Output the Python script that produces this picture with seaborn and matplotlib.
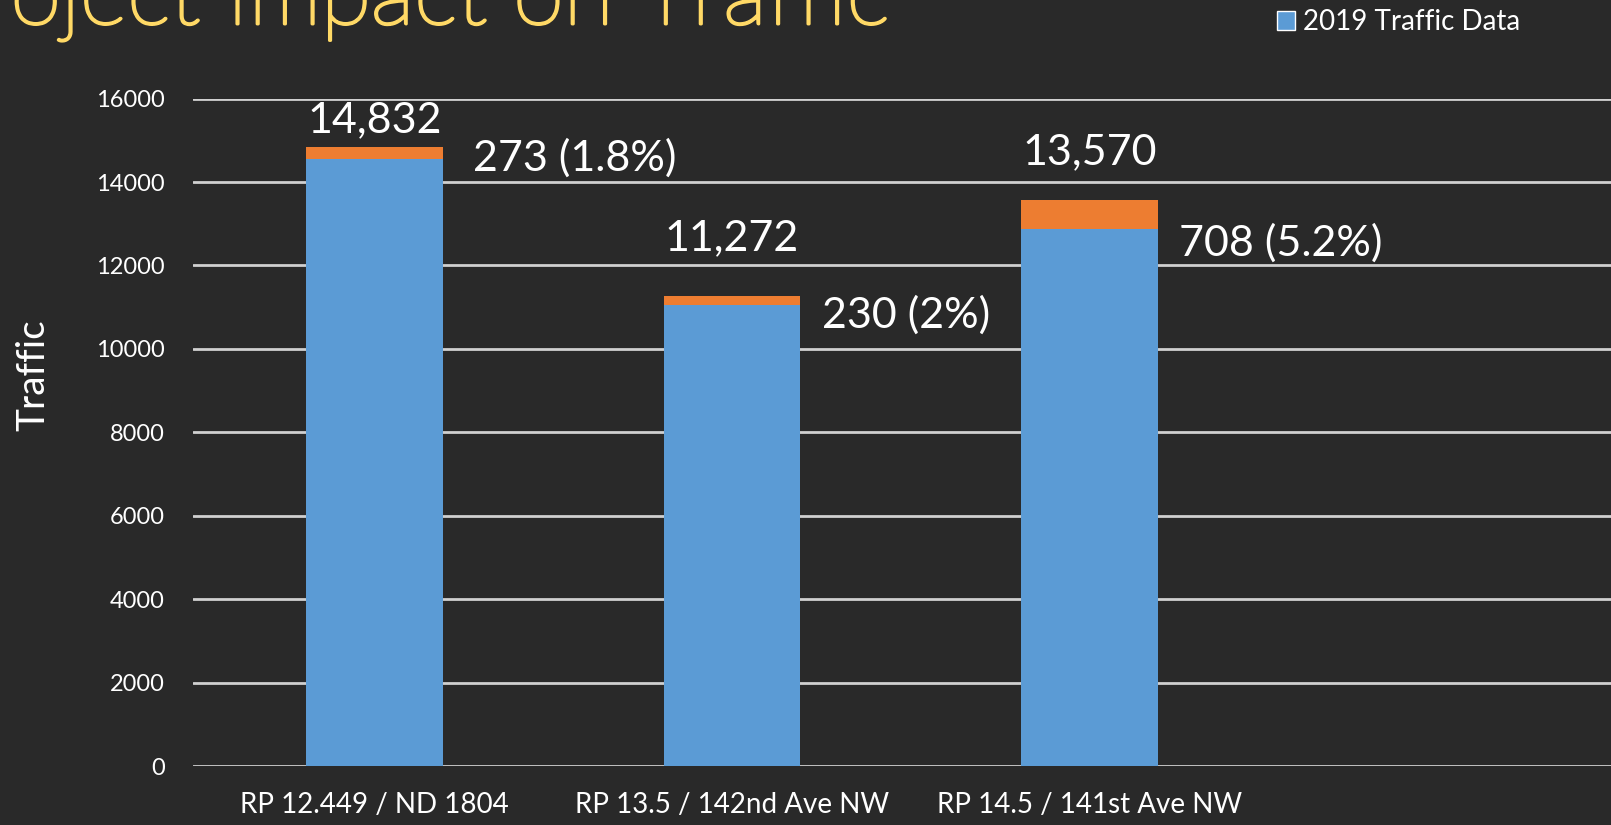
import matplotlib
matplotlib.use("Agg")
import matplotlib.pyplot as plt
import matplotlib.patheffects as pe
from matplotlib.patches import Patch
import seaborn as sns
import pandas as pd

# ---- data ----
categories = ["RP 12.449 / ND 1804", "RP 13.5 / 142nd Ave NW", "RP 14.5 / 141st Ave NW"]
traffic_2019 = [14559, 11042, 12862]
project_added = [273, 230, 708]
total_labels = ["14,832", "11,272", "13,570"]
added_labels = ["273 (1.8%)", "230 (2%)", "708 (5.2%)"]
y_ticks = [0, 2000, 4000, 6000, 8000, 10000, 12000, 14000, 16000]

# label placement (offsets relative to bars)
total_label_dy = [650, 1380, 1150]
added_label_dx = [0.083, 0.06, 0.06]
added_label_dy = [-110, -340, -670]

BG = "#292929"
sns.set_theme(style="dark")
plt.rcParams["font.family"] = ["Lato", "DejaVu Sans"]

totals = [a + b for a, b in zip(traffic_2019, project_added)]
df = pd.DataFrame({"cat": categories, "base": traffic_2019, "total": totals})

fig = plt.figure(figsize=(16.11, 8.25), dpi=100, facecolor=BG)
ax = fig.add_axes([0.1198, 0.0715, 0.8802, 0.809])
ax.set_facecolor(BG)

for t in y_ticks:
    ax.axhline(t, color="#d0d0d0", lw=2.0, zorder=0)

w = 0.383
sns.barplot(data=df, x="cat", y="total", color="#ED7D31", saturation=1,
            width=w, ax=ax, zorder=2, linewidth=0)
sns.barplot(data=df, x="cat", y="base", color="#5B9BD5", saturation=1,
            width=w, ax=ax, zorder=3, linewidth=0)

ax.set_ylim(0, 16000)
ax.set_xlim(-0.508, 3.459)
ax.set_yticks(y_ticks)
ax.set_yticklabels([str(t) for t in y_ticks], color="white", fontsize=17)
ax.tick_params(axis="y", length=0, pad=20.5)
ax.tick_params(axis="x", length=0, pad=19, labelcolor="white", labelsize=20)
for s in ax.spines.values():
    s.set_visible(False)
ax.grid(False)

ax.set_xlabel("")
ax.set_ylabel("Traffic", color="white", fontsize=28)
ax.yaxis.set_label_coords(-0.100, 0.586)

for i, (tot, tl, al) in enumerate(zip(totals, total_labels, added_labels)):
    ax.text(i, tot + total_label_dy[i], tl, ha="center", va="center",
            color="white", fontsize=31, zorder=5)
    ax.text(i + w / 2 + added_label_dx[i],
            tot + added_label_dy[i] - project_added[i] / 2,
            al, ha="left", va="center", color="white", fontsize=31, zorder=5)

# legend
fig.legend(handles=[Patch(facecolor="#5B9BD5", label="2019 Traffic Data")],
           loc="center left", bbox_to_anchor=(0.7927, 0.973), frameon=False,
           fontsize=20, handlelength=0.65, handleheight=0.65, handletextpad=0.3,
           borderpad=0, borderaxespad=0, labelcolor="white")

# title (cut off at top/left like the slide)
fig.text(0.552, 0.971, "Project Impact on Traffic", ha="right", va="baseline",
         color="#FFD966", fontsize=66, fontweight="light",
         path_effects=[pe.withStroke(linewidth=2.2, foreground="#FFD966")])

fig.savefig("out.png", dpi=100, facecolor=BG)
